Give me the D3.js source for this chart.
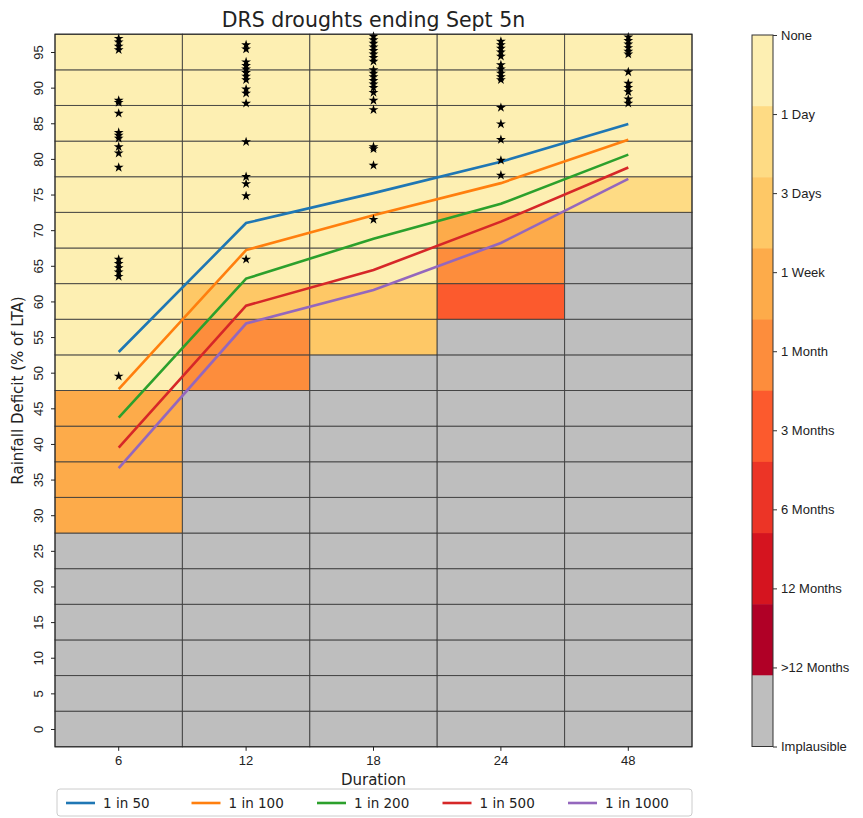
<!DOCTYPE html>
<html>
<head>
<meta charset="utf-8">
<script src="https://cdn.jsdelivr.net/npm/d3@7"></script>
<style>
  html, body { margin: 0; padding: 0; background: #ffffff; }
  svg { display: block; font-family: "DejaVu Sans", sans-serif; }
</style>
</head>
<body>
<svg id="chart" width="863" height="818"></svg>
<script>
// Drought durations (x categories) and deficit levels (y rows / tick labels)
const durations = ["6", "12", "18", "24", "48"];
const deficitLevels = [0, 5, 10, 15, 20, 25, 30, 35, 40, 45, 50, 55, 60, 65, 70, 75, 80, 85, 90, 95];

// Severity classes shown on the colour bar (top to bottom)
const severityLabels = ["None", "1 Day", "3 Days", "1 Week", "1 Month", "3 Months",
                        "6 Months", "12 Months", ">12 Months", "Implausible"];
const severityColors = ["#fdefb2", "#fedb84", "#fec866", "#fdab4a", "#fd8d3c", "#fc5a2d",
                        "#ec3426", "#d5141f", "#b00026", "#bebebe"];

// Severity class index for each deficit level (0..95), one array per duration
const cells6  = [9,9,9,9,9,9,3,3,3,3,0,0,0,0,0,0,0,0,0,0];
const cells12 = [9,9,9,9,9,9,9,9,9,9,4,4,2,0,0,0,0,0,0,0];
const cells18 = [9,9,9,9,9,9,9,9,9,9,9,2,2,0,0,0,0,0,0,0];
const cells24 = [9,9,9,9,9,9,9,9,9,9,9,9,5,4,3,0,0,0,0,0];
const cells48 = [9,9,9,9,9,9,9,9,9,9,9,9,9,9,9,1,0,0,0,0];
const cellColumns = [cells6, cells12, cells18, cells24, cells48];

// Return-period deficit curves (% of LTA) per duration
const returnPeriods = ["1 in 50", "1 in 100", "1 in 200", "1 in 500", "1 in 1000"];
const rp50   = [52.9, 71.0, 75.2, 79.6, 84.9];
const rp100  = [47.7, 67.2, 72.1, 76.6, 82.7];
const rp200  = [43.7, 63.2, 68.8, 73.7, 80.6];
const rp500  = [39.5, 59.4, 64.4, 71.2, 78.8];
const rp1000 = [36.6, 56.9, 61.6, 68.2, 77.2];
const rpSeries = [rp50, rp100, rp200, rp500, rp1000];
const rpColors = ["#1f77b4", "#ff7f0e", "#2ca02c", "#d62728", "#9467bd"];

// Observed droughts (deficit, % of LTA) per duration
const obs6  = [96.9, 96.4, 95.8, 95.3, 88.2, 87.9, 86.4, 83.7, 83.3, 82.9, 81.7, 80.8, 78.8,
               65.9, 65.3, 64.7, 64.1, 63.5, 49.5];
const obs12 = [96.0, 95.4, 93.6, 93.1, 92.6, 92.1, 91.6, 91.1, 89.8, 89.2, 87.8, 82.4,
               77.5, 76.5, 74.8, 65.9];
const obs18 = [97.2, 96.7, 96.2, 95.7, 95.2, 94.7, 94.2, 93.7, 92.5, 92.0, 91.5, 91.0, 90.5,
               90.0, 89.3, 88.2, 86.9, 81.7, 81.4, 79.1, 71.5];
const obs24 = [96.5, 96.0, 95.5, 95.0, 94.4, 93.2, 92.6, 92.0, 91.5, 91.1, 87.2, 84.9, 82.7,
               79.8, 77.7];
const obs48 = [97.1, 96.6, 96.1, 95.6, 95.1, 94.7, 92.2, 90.6, 90.0, 89.4, 88.4, 87.8];
const obsColumns = [obs6, obs12, obs18, obs24, obs48];

const svg = d3.select("#chart");
const plot = { left: 55, right: 692, top: 34.2, bottom: 746.8 };

const x = d3.scaleBand().domain(durations).range([plot.left, plot.right]).padding(0);
const y = d3.scaleLinear().domain([-2.5, 97.5]).range([plot.bottom, plot.top]);

// Heat-map cells
const cellData = [];
cellColumns.forEach((col, i) => {
  col.forEach((cls, j) => cellData.push({ dur: durations[i], level: deficitLevels[j], cls }));
});
svg.append("g").selectAll("rect").data(cellData).join("rect")
  .attr("x", d => x(d.dur))
  .attr("y", d => y(d.level + 2.5))
  .attr("width", x.bandwidth())
  .attr("height", d => y(d.level - 2.5) - y(d.level + 2.5))
  .attr("fill", d => severityColors[d.cls])
  .attr("stroke", "#3a3a3a")
  .attr("stroke-opacity", 0.85)
  .attr("stroke-width", 1);

// Return-period curves
const line = d3.line()
  .x((d, i) => x(durations[i]) + x.bandwidth() / 2)
  .y(d => y(d));
svg.append("g").selectAll("path").data(rpSeries).join("path")
  .attr("d", d => line(d))
  .attr("fill", "none")
  .attr("stroke", (d, i) => rpColors[i])
  .attr("stroke-width", 2.6);

// Observed droughts as star markers
const star = d3.symbol().type(d3.symbolStar).size(30);
const obsData = [];
obsColumns.forEach((col, i) => col.forEach(v => obsData.push({ dur: durations[i], v })));
svg.append("g").selectAll("path").data(obsData).join("path")
  .attr("d", star)
  .attr("transform", d => `translate(${x(d.dur) + x.bandwidth() / 2},${y(d.v)})`)
  .attr("fill", "#000");

// Plot frame
svg.append("rect")
  .attr("x", plot.left).attr("y", plot.top)
  .attr("width", plot.right - plot.left).attr("height", plot.bottom - plot.top)
  .attr("fill", "none").attr("stroke", "#222").attr("stroke-width", 1);

// Axes
const yAxis = svg.append("g")
  .attr("transform", `translate(${plot.left},0)`)
  .call(d3.axisLeft(y).tickValues(deficitLevels).tickSize(4).tickSizeOuter(0));
yAxis.select(".domain").remove();
yAxis.selectAll("text")
  .attr("x", null).attr("dy", "0.35em")
  .attr("transform", "translate(-17,0) rotate(-90)")
  .attr("text-anchor", "middle")
  .attr("font-size", 13).attr("fill", "#222");
yAxis.selectAll("line").attr("stroke", "#222");

const xAxis = svg.append("g")
  .attr("transform", `translate(0,${plot.bottom})`)
  .call(d3.axisBottom(x).tickSize(4).tickSizeOuter(0));
xAxis.select(".domain").remove();
xAxis.selectAll("text").attr("font-size", 13).attr("fill", "#222").attr("dy", "0.9em");
xAxis.selectAll("line").attr("stroke", "#222");

// Title and axis labels
svg.append("text")
  .attr("x", (plot.left + plot.right) / 2).attr("y", 27)
  .attr("text-anchor", "middle").attr("font-size", 20.5).attr("fill", "#222")
  .text("DRS droughts ending Sept 5n");
svg.append("text")
  .attr("x", (plot.left + plot.right) / 2).attr("y", 785)
  .attr("text-anchor", "middle").attr("font-size", 15).attr("fill", "#222")
  .text("Duration");
svg.append("text")
  .attr("transform", `translate(23,${(plot.top + plot.bottom) / 2}) rotate(-90)`)
  .attr("text-anchor", "middle").attr("font-size", 15).attr("fill", "#222")
  .text("Rainfall Deficit (% of LTA)");

// Colour bar
const cbar = { x: 752, w: 21, top: 35, bottom: 746.5 };
const cbBand = d3.scaleBand().domain(severityLabels).range([cbar.top, cbar.bottom]);
svg.append("g").selectAll("rect").data(severityLabels).join("rect")
  .attr("x", cbar.x).attr("y", d => cbBand(d))
  .attr("width", cbar.w).attr("height", cbBand.bandwidth() + 0.5)
  .attr("fill", (d, i) => severityColors[i]);
svg.append("rect")
  .attr("x", cbar.x).attr("y", cbar.top).attr("width", cbar.w).attr("height", cbar.bottom - cbar.top)
  .attr("fill", "none").attr("stroke", "#333").attr("stroke-width", 1);
const cbScale = d3.scaleLinear().domain([0, severityLabels.length - 1]).range([cbar.top, cbar.bottom]);
const cbAxis = svg.append("g")
  .attr("transform", `translate(${cbar.x + cbar.w},0)`)
  .call(d3.axisRight(cbScale).tickValues(d3.range(severityLabels.length))
        .tickFormat(i => severityLabels[i]).tickSize(4).tickSizeOuter(0));
cbAxis.select(".domain").remove();
cbAxis.selectAll("text").attr("font-size", 13).attr("fill", "#222").attr("x", 8);
cbAxis.selectAll("line").attr("stroke", "#333");

// Legend
const legend = svg.append("g");
legend.append("rect")
  .attr("x", 57).attr("y", 789).attr("width", 635).attr("height", 27).attr("rx", 3)
  .attr("fill", "#fff").attr("stroke", "#cccccc");
const entry = legend.selectAll("g.entry").data(returnPeriods).join("g")
  .attr("class", "entry")
  .attr("transform", (d, i) => `translate(${66 + i * 125.5},803)`);
entry.append("line")
  .attr("x1", 0).attr("x2", 29).attr("y1", 0).attr("y2", 0)
  .attr("stroke", (d, i) => rpColors[i]).attr("stroke-width", 2.6);
entry.append("text")
  .attr("x", 37).attr("dy", "0.35em").attr("font-size", 13.5).attr("fill", "#222")
  .text(d => d);
</script>
</body>
</html>
